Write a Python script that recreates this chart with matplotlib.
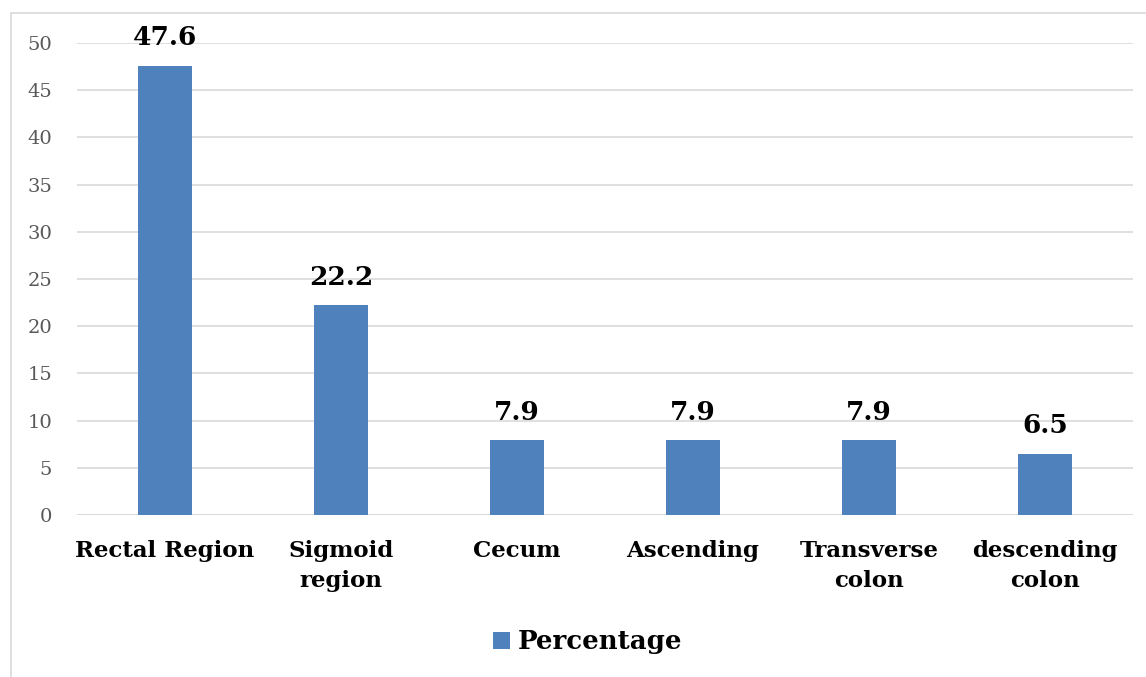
import matplotlib.pyplot as plt
from matplotlib.patches import Rectangle

categories = ["Rectal Region", "Sigmoid\nregion", "Cecum", "Ascending",
              "Transverse\ncolon", "descending\ncolon"]
percentage = [47.6, 22.2, 7.9, 7.9, 7.9, 6.5]
yticks = [0, 5, 10, 15, 20, 25, 30, 35, 40, 45, 50]

bar_color = "#4F81BD"
serif = ["DejaVu Serif"]

fig = plt.figure(figsize=(11.46, 6.77), dpi=100)
ax = fig.add_axes([77 / 1146, 1 - 515 / 677, (1133 - 77) / 1146, (515 - 43) / 677])

# outer chart border (runs off the right and bottom edge)
fig.patches.append(Rectangle((11 / 1146, -0.1), 1.2, 1 - 13 / 677 + 0.1,
                             transform=fig.transFigure, fill=False,
                             edgecolor="#D9D9D9", linewidth=1.2))

x = range(len(categories))
bars = ax.bar(x, percentage, width=0.31, color=bar_color, label="Percentage", zorder=3)

for b, v in zip(bars, percentage):
    ax.annotate(f"{v}", (b.get_x() + b.get_width() / 2, v), xytext=(0, 11),
                textcoords="offset points", ha="center", va="bottom",
                fontsize=19, fontweight="bold", family=serif, color="black")

ax.set_xlim(-0.5, len(categories) - 0.5)
ax.set_ylim(0, 50)
ax.set_yticks(yticks)
ax.set_xticks(list(x))
ax.set_xticklabels(categories, fontsize=16.5, fontweight="bold", family=serif,
                   linespacing=1.45)
ax.tick_params(axis="x", length=0, pad=18)
ax.tick_params(axis="y", length=0, pad=18, labelsize=14, labelcolor="#595959")
for lab in ax.get_yticklabels():
    lab.set_family(serif)

ax.grid(axis="y", color="#D9D9D9", linewidth=1.2, zorder=0)
for s in ax.spines.values():
    s.set_visible(False)
ax.axhline(0, color="#D9D9D9", linewidth=1.2, zorder=1)

leg = fig.legend(loc="center", bbox_to_anchor=(588 / 1146, 1 - 642 / 677),
                 frameon=False, handlelength=0.65, handleheight=0.65,
                 handletextpad=0.3,
                 prop={"family": serif, "weight": "bold", "size": 18.7})

fig.savefig("out.png", dpi=100, facecolor="white")
